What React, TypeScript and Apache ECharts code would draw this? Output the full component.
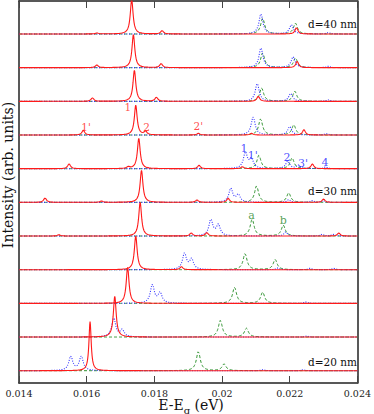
import React, { useEffect, useRef } from 'react';
import * as echarts from 'echarts';

// Film thicknesses (nm), bottom trace to top trace; each trace is offset by 1 unit
const thicknesses = [20, 22, 24, 26, 28, 30, 32, 34, 36, 38, 40];
const thicknessLabels = [
  { d: 40, text: 'd=40 nm' },
  { d: 30, text: 'd=30 nm' },
  { d: 20, text: 'd=20 nm' },
];
const xTickLabels = ['0.014', '0.016', '0.018', '0.02', '0.022', '0.024'];

// Peaks: [centre (eV), height (offset units), half width (eV)]
const redPeaks: number[][][] = [
  [[0.01610, 1.46, 0.00004]],
  [[0.01683, 1.21, 0.00005]],
  [[0.01721, 1.07, 0.00005]],
  [[0.01745, 1.0, 0.00005], [0.0188, 0.09, 0.00005]],
  [[0.01758, 1.0, 0.00005], [0.01518, 0.04, 0.00005], [0.01909, 0.09, 0.00005], [0.01955, 0.1, 0.00005], [0.02345, 0.09, 0.00005]],
  [[0.01762, 0.95, 0.00005], [0.01477, 0.13, 0.00005], [0.01644, 0.04, 0.00005], [0.01926, 0.07, 0.00005], [0.02018, 0.12, 0.00005], [0.0230, 0.1, 0.00005]],
  [[0.01754, 0.9, 0.00005], [0.01548, 0.14, 0.00005], [0.01723, 0.05, 0.00005], [0.01932, 0.1, 0.00005], [0.0206, 0.06, 0.00005], [0.02267, 0.14, 0.00005]],
  [[0.01745, 0.88, 0.00005], [0.0159, 0.14, 0.00005], [0.01774, 0.1, 0.00005], [0.0193, 0.05, 0.00005], [0.02087, 0.05, 0.00005], [0.02242, 0.16, 0.00005]],
  [[0.01741, 0.92, 0.00005], [0.01617, 0.1, 0.00005], [0.01806, 0.12, 0.00005], [0.02107, 0.15, 0.00005]],
  [[0.01738, 0.98, 0.00005], [0.0163, 0.08, 0.00005], [0.0182, 0.12, 0.00005], [0.02222, 0.19, 0.00005]],
  [[0.01733, 1.02, 0.00005], [0.0163, 0.03, 0.00005], [0.01823, 0.1, 0.00005], [0.0222, 0.19, 0.00005]],
];
const bluePeaks: number[][][] = [
  [[0.01553, 0.42, 0.00007], [0.01584, 0.42, 0.00007], [0.0212, 0.03, 0.00006], [0.0224, 0.03, 0.00006]],
  [[0.0168, 0.56, 0.00007], [0.01705, 0.2, 0.00007], [0.0225, 0.03, 0.00006]],
  [[0.01794, 0.55, 0.00007], [0.01817, 0.3, 0.00007], [0.02248, 0.04, 0.00006]],
  [[0.01889, 0.48, 0.00007], [0.0191, 0.3, 0.00007], [0.02165, 0.05, 0.00006], [0.0226, 0.04, 0.00006], [0.0233, 0.04, 0.00006]],
  [[0.01967, 0.48, 0.00007], [0.01989, 0.32, 0.00007], [0.02188, 0.12, 0.00006], [0.02296, 0.05, 0.00006], [0.0233, 0.05, 0.00006]],
  [[0.02026, 0.41, 0.00007], [0.02048, 0.22, 0.00007], [0.02197, 0.08, 0.00006], [0.02266, 0.05, 0.00006], [0.023, 0.04, 0.00006]],
  [[0.02069, 0.47, 0.00007], [0.02087, 0.27, 0.00007], [0.02194, 0.22, 0.00007], [0.02225, 0.1, 0.00006], [0.02306, 0.05, 0.00006]],
  [[0.02092, 0.54, 0.00007], [0.022, 0.25, 0.00007], [0.02308, 0.04, 0.00006]],
  [[0.02104, 0.53, 0.00007], [0.02203, 0.23, 0.00007], [0.02314, 0.04, 0.00006]],
  [[0.02115, 0.59, 0.00007], [0.0221, 0.32, 0.00007], [0.02314, 0.04, 0.00006]],
  [[0.02115, 0.6, 0.00007], [0.02205, 0.27, 0.00007], [0.02314, 0.04, 0.00006]],
];
const greenPeaks: number[][][] = [
  [[0.0193, 0.57, 0.00007], [0.02006, 0.2, 0.00007]],
  [[0.01995, 0.5, 0.00007], [0.02072, 0.26, 0.00007]],
  [[0.02037, 0.48, 0.00007], [0.0212, 0.33, 0.00007]],
  [[0.02068, 0.48, 0.00007], [0.02157, 0.3, 0.00007]],
  [[0.02089, 0.5, 0.00007], [0.02181, 0.32, 0.00007]],
  [[0.02102, 0.49, 0.00007], [0.02197, 0.28, 0.00007]],
  [[0.02109, 0.4, 0.00007], [0.02207, 0.32, 0.00007]],
  [[0.02114, 0.48, 0.00007], [0.02212, 0.3, 0.00007]],
  [[0.02117, 0.4, 0.00007], [0.02215, 0.3, 0.00007]],
  [[0.0212, 0.44, 0.00007], [0.02217, 0.29, 0.00007]],
  [[0.0212, 0.47, 0.00007], [0.02217, 0.32, 0.00007]],
];

// Peak labels: [text, energy (eV), vertical position (offset units)]
const redLabels: [string, number, number][] = [
  ['1', 0.01722, 7.84], ["1'", 0.01598, 7.24], ['2', 0.01777, 7.24], ["2'", 0.0193, 7.27],
];
const blueLabels: [string, number, number][] = [
  ['1', 0.02065, 6.61], ["1'", 0.02091, 6.38], ['2', 0.02192, 6.32], ["3'", 0.02239, 6.14], ['4', 0.02304, 6.17],
];
const greenLabels: [string, number, number][] = [
  ['a', 0.02087, 4.62], ['b', 0.02181, 4.45],
];

const E_MIN = 0.014;
const E_MAX = 0.024;
const E_STEP = 0.00001;

function spectrum(peaks: number[][], offset: number) {
  const pts: number[][] = [];
  const n = Math.round((E_MAX - E_MIN) / E_STEP);
  for (let i = 0; i <= n; i++) {
    const e = E_MIN + i * E_STEP;
    let v = offset;
    for (const [c, h, w] of peaks) {
      const t = (e - c) / w;
      v += h / (1 + t * t);
    }
    pts.push([e, v]);
  }
  return pts;
}

const SERIF = 'DejaVu Serif';
const RED = '#ff1a1a';
const BLUE = '#3030ff';
const GREEN = '#2f932f';

export default function App() {
  const ref = useRef<HTMLDivElement>(null);
  useEffect(() => {
    if (!ref.current) return;
    const chart = echarts.init(ref.current, undefined, { renderer: 'svg' });
    const series: any[] = [];
    thicknesses.forEach((d, k) => {
      series.push({
        type: 'line', name: `green-${d}`, data: spectrum(greenPeaks[k], k), symbol: 'none', silent: true,
        lineStyle: { color: GREEN, width: 1, type: [3, 2] }, z: 2,
      });
      series.push({
        type: 'line', name: `blue-${d}`, data: spectrum(bluePeaks[k], k), symbol: 'none', silent: true,
        lineStyle: { color: BLUE, width: 1.1, type: [1, 1.5] }, z: 3,
      });
      series.push({
        type: 'line', name: `red-${d}`, data: spectrum(redPeaks[k], k), symbol: 'none', silent: true,
        lineStyle: { color: RED, width: 1.1 }, z: 4,
      });
    });
    const labelSeries = (labels: [string, number, number][], color: string, size: number) => ({
      type: 'scatter', symbolSize: 0, silent: true, z: 6,
      data: labels.map(([t, x, y]) => ({ name: t, value: [x, y] })),
      label: {
        show: true, position: 'inside', formatter: (p: any) => p.name,
        color, fontFamily: SERIF, fontSize: size,
      },
    });
    series.push(labelSeries(redLabels, RED, 10.5));
    series.push(labelSeries(blueLabels, '#1a1aff', 11));
    series.push(labelSeries(greenLabels, '#2a8a2a', 11));

    const dY: Record<number, number> = { 40: 23.5, 30: 191, 20: 362 };
    const axisCommon = {
      type: 'value', min: 0.014, max: 0.024, interval: 0.002,
      axisLine: { show: true, onZero: false, lineStyle: { color: '#222', width: 1.5 } },
      axisTick: { show: true, inside: true, length: 7, lineStyle: { color: '#444', width: 1 } },
      splitLine: { show: false },
    };
    chart.setOption({
      animation: false,
      grid: { left: 19, right: 15, top: 1, bottom: 31 },
      xAxis: [
        {
          ...axisCommon, position: 'bottom',
          axisLabel: {
            margin: 5, color: '#222', fontFamily: SERIF, fontSize: 9.5,
            formatter: (v: number) => xTickLabels[Math.round((v - 0.014) / 0.002)] ?? '',
          },
        },
        { ...axisCommon, position: 'top', axisLabel: { show: false } },
      ],
      yAxis: [
        {
          type: 'value', min: -0.365, max: 10.98, position: 'left',
          axisLine: { show: true, onZero: false, lineStyle: { color: '#222', width: 1.5 } },
          axisTick: { show: false }, axisLabel: { show: false }, splitLine: { show: false },
        },
        {
          type: 'value', min: -0.365, max: 10.98, position: 'right',
          axisLine: { show: true, onZero: false, lineStyle: { color: '#222', width: 1.5 } },
          axisTick: { show: false }, axisLabel: { show: false }, splitLine: { show: false },
        },
      ],
      series,
      graphic: [
        {
          type: 'text', x: 8, y: 175, rotation: Math.PI / 2,
          style: { text: 'Intensity (arb. units)', font: `14px "${SERIF}"`, fill: '#111', align: 'center', verticalAlign: 'middle' },
        },
        {
          type: 'text', x: 191, y: 398,
          style: {
            text: '{m|E-E}{s|g}{m| (eV)}',
            fill: '#111', align: 'center', verticalAlign: 'top',
            rich: {
              m: { fontFamily: SERIF, fontSize: 14, lineHeight: 15, verticalAlign: 'top', fill: '#111' },
              s: { fontFamily: SERIF, fontSize: 10, lineHeight: 11, verticalAlign: 'top', padding: [7, 0, 0, 0], fill: '#111' },
            },
          },
        },
        ...thicknessLabels.map((l) => ({
          type: 'text', x: 357, y: dY[l.d],
          style: { text: l.text, font: `10.5px "${SERIF}"`, fill: '#111', align: 'right', verticalAlign: 'middle' },
        })),
      ],
    });
    return () => chart.dispose();
  }, []);
  return <div ref={ref} style={{ position: 'absolute', left: 0, top: 0, width: 374, height: 414 }} />;
}
